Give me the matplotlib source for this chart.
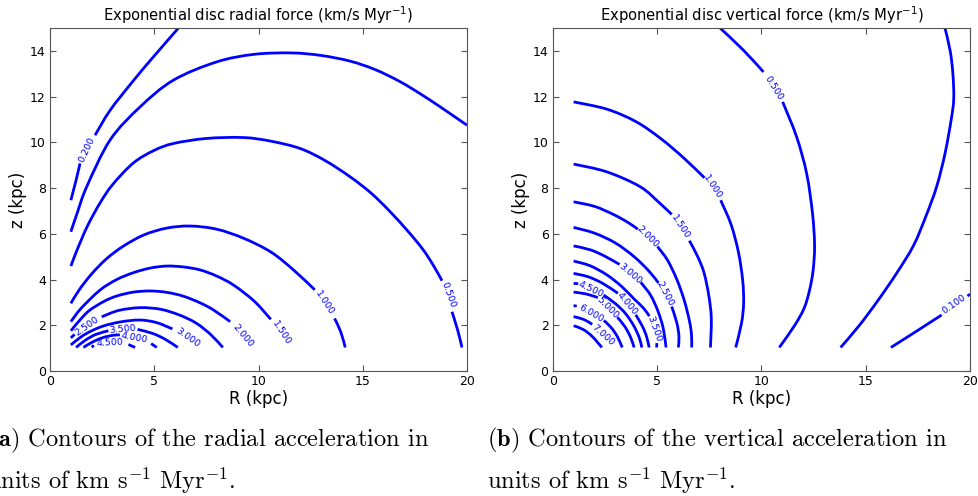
import matplotlib
matplotlib.use('Agg')
import matplotlib.pyplot as plt
from matplotlib.path import Path
from matplotlib.patches import PathPatch

# Contours, (R, z) in kpc.
# Each level is a list of pieces; pieces break where the inline label sits.

radial_levels = ['0.200', '', '0.500', '1.000', '1.500', '2.000',
                 '2.500', '3.000', '3.500', '4.000', '4.500']
radial_lines = [
    [[(1.0, 7.47), (1.25, 8.35), (1.44, 9.08)],
     [(2.16, 10.31), (2.88, 11.4), (4.0, 12.7), (4.96, 13.74), (6.16, 15.0)]],
    [[(1.0, 6.09), (1.3, 6.9), (1.76, 8.06), (2.88, 10.1), (4.32, 11.55), (5.92, 12.72),
      (8.0, 13.52), (9.8, 13.85), (11.6, 13.91), (13.0, 13.8), (14.4, 13.55),
      (15.6, 13.18), (16.8, 12.65), (17.8, 12.1), (18.72, 11.55), (20.0, 10.75)]],
    [[(1.0, 4.59), (1.3, 5.3), (1.8, 6.35), (2.4, 7.35), (3.0, 8.15), (4.0, 9.1),
      (5.0, 9.65), (5.92, 9.95), (7.5, 10.17), (9.28, 10.21), (10.6, 10.05),
      (12.0, 9.73), (13.2, 9.2), (14.4, 8.49), (15.4, 7.78), (16.3, 6.98),
      (17.2, 6.08), (17.9, 5.3), (18.4, 4.6), (18.8, 3.95)],
     [(19.28, 2.59), (19.55, 1.8), (19.76, 1.03)]],
    [[(1.0, 2.96), (1.4, 3.55), (2.0, 4.25), (2.7, 4.9), (3.5, 5.45), (4.5, 5.95),
      (5.6, 6.25), (6.72, 6.34), (8.0, 6.2), (9.3, 5.8), (10.6, 5.2),
      (11.68, 4.42), (12.7, 3.55)],
     [(13.65, 2.3), (13.95, 1.7), (14.16, 1.03)]],
    [[(1.0, 2.16), (1.5, 2.75), (2.4, 3.54), (3.2, 4.0), (4.0, 4.3), (4.8, 4.5),
      (5.6, 4.59), (6.4, 4.55), (7.2, 4.42), (8.0, 4.15), (8.8, 3.76), (9.8, 3.05),
      (10.59, 2.26)]],
    [[(1.0, 1.76), (1.5, 2.3), (1.92, 2.67), (2.6, 3.05), (3.2, 3.28), (4.0, 3.45),
      (4.8, 3.5), (5.6, 3.44), (6.4, 3.27), (7.2, 2.98), (7.84, 2.67), (8.64, 2.16)]],
    [[(1.0, 1.45), (1.18, 1.6)],
     [(2.48, 2.37), (3.3, 2.65), (4.32, 2.77), (5.3, 2.7), (6.2, 2.45), (7.0, 2.1),
      (7.7, 1.6), (8.29, 1.03)]],
    [[(1.0, 1.14), (1.5, 1.5), (2.0, 1.76), (2.6, 1.98), (3.4, 2.15), (4.3, 2.23),
      (5.1, 2.12), (5.87, 1.84)]],
    [[(1.25, 1.03), (1.7, 1.35), (2.2, 1.6), (2.8, 1.76)],
     [(4.2, 1.82), (4.9, 1.65), (5.5, 1.4), (6.13, 1.03)]],
    [[(1.6, 1.03), (2.0, 1.25), (2.5, 1.45), (3.0, 1.56), (3.35, 1.58)],
     [(4.85, 1.2), (5.12, 1.03)]],
    [[(2.0, 1.04), (2.1, 1.12)],
     [(3.76, 1.16), (4.08, 1.03)]],
]
radial_label_xy = [(1.76, 9.66), None, (19.1, 3.32), (13.16, 2.96), (11.08, 1.65),
                   (9.24, 1.54), (1.76, 1.97), (6.62, 1.46), (3.48, 1.83),
                   (4.04, 1.43), (2.89, 1.22)]
radial_label_rot = [65, 0, -70, -57, -57, -50, 35, -35, 5, -10, 3]

vertical_levels = ['0.100', '', '0.500', '1.000', '1.500', '2.000', '2.500',
                   '3.000', '3.500', '4.000', '4.500', '5.000', '6.000', '7.000', '']
vertical_lines = [
    [[(16.21, 1.03), (17.4, 1.72), (18.64, 2.45)],
     [(19.88, 3.28), (20.0, 3.36)]],
    [[(13.8, 1.03), (14.7, 2.0), (15.6, 3.1), (16.5, 4.3), (17.3, 5.5), (17.9, 6.8),
      (18.4, 8.06), (18.8, 9.5), (19.1, 11.0), (19.22, 11.9), (19.18, 13.0),
      (19.05, 14.0), (18.8, 15.0)]],
    [[(8.02, 15.0), (9.14, 14.03), (10.1, 13.08)],
     [(11.02, 11.77), (11.69, 10.24), (12.17, 8.64), (12.45, 6.9), (12.55, 5.5),
      (12.48, 4.4), (12.3, 3.5), (12.05, 2.75), (11.6, 2.0), (10.86, 1.03)]],
    [[(1.0, 11.77), (2.6, 11.45), (4.0, 10.9), (5.2, 10.15), (6.3, 9.3), (7.27, 8.45)],
     [(8.05, 7.47), (8.55, 6.4), (8.9, 5.2), (9.1, 4.0), (9.15, 3.0), (9.05, 2.1),
      (8.77, 1.03)]],
    [[(1.0, 9.05), (2.59, 8.71), (4.19, 8.06), (5.14, 7.33), (5.7, 6.85)],
     [(6.55, 5.7), (6.95, 5.0), (7.25, 4.3), (7.48, 3.3), (7.6, 2.3), (7.56, 1.03)]],
    [[(1.0, 7.4), (2.0, 7.2), (2.9, 6.85), (3.6, 6.5), (4.08, 6.2)],
     [(5.02, 5.44), (5.5, 4.85), (5.95, 4.0), (6.3, 3.1), (6.55, 2.2), (6.65, 1.6),
      (6.66, 1.03)]],
    [[(1.0, 6.28), (2.0, 6.03), (3.0, 5.6), (3.9, 5.0), (4.6, 4.38), (5.07, 3.85)],
     [(5.7, 2.82), (5.95, 2.1), (6.05, 1.5), (6.02, 1.03)]],
    [[(1.0, 5.47), (1.8, 5.3), (2.5, 5.02), (3.2, 4.66)],
     [(4.22, 3.88), (4.7, 3.3), (5.05, 2.6), (5.3, 1.85), (5.43, 1.03)]],
    [[(1.0, 4.81), (1.8, 4.6), (2.6, 4.2), (3.3, 3.7), (3.9, 3.15), (4.35, 2.75),
      (4.63, 2.4)],
     [(4.99, 1.22), (4.98, 1.03)]],
    [[(1.0, 4.27), (1.7, 4.12), (2.4, 3.83), (3.12, 3.4)],
     [(3.98, 2.46), (4.3, 1.95), (4.5, 1.5), (4.62, 1.03)]],
    [[(1.0, 3.83), (1.22, 3.82)],
     [(2.44, 3.32), (3.0, 2.95), (3.5, 2.5), (3.9, 1.95), (4.15, 1.45), (4.27, 1.03)]],
    [[(1.0, 3.45), (1.6, 3.37), (2.16, 3.21)],
     [(3.1, 2.35), (3.45, 1.95), (3.72, 1.5), (3.9, 1.03)]],
    [[(1.0, 2.86), (1.15, 2.84)],
     [(2.45, 2.21), (2.8, 1.9), (3.1, 1.5), (3.33, 1.03)]],
    [[(1.0, 2.38), (1.5, 2.25), (1.89, 2.04)]],
    [[(1.0, 1.98), (1.45, 1.82), (1.85, 1.55), (2.15, 1.25), (2.35, 1.03)]],
]
vertical_label_xy = [(19.25, 2.92), None, (10.6, 12.39), (7.64, 8.03), (6.14, 6.3),
                     (4.55, 5.87), (5.38, 3.4), (3.71, 4.27), (4.86, 1.83),
                     (3.55, 2.93), (1.83, 3.58), (2.63, 2.78), (1.87, 2.52),
                     (2.39, 1.58), None]
vertical_label_rot = [35, 0, -58, -57, -57, -45, -62, -40, -70, -50, -25, -45, -30, -42, 0]

line_color = '#0000ff'


def smooth_path(piece):
    # Catmull-Rom through the read points, handed to matplotlib as cubic Beziers
    pts = list(piece)
    verts = [pts[0]]
    codes = [Path.MOVETO]
    n = len(pts)
    for i in range(n - 1):
        p0 = pts[i - 1] if i > 0 else pts[i]
        p1, p2 = pts[i], pts[i + 1]
        p3 = pts[i + 2] if i + 2 < n else pts[i + 1]
        c1 = (p1[0] + (p2[0] - p0[0]) / 6, p1[1] + (p2[1] - p0[1]) / 6)
        c2 = (p2[0] - (p3[0] - p1[0]) / 6, p2[1] - (p3[1] - p1[1]) / 6)
        verts += [c1, c2, p2]
        codes += [Path.CURVE4] * 3
    return Path(verts, codes)


def draw_panel(ax, lines, levels, label_xy, label_rot, title):
    for pieces in lines:
        for piece in pieces:
            ax.add_patch(PathPatch(smooth_path(piece), fill=False, ec=line_color,
                                   lw=2.0, capstyle='butt'))
    for text, xy, rot in zip(levels, label_xy, label_rot):
        if text and xy is not None:
            ax.text(xy[0], xy[1], text, rotation=rot, rotation_mode='anchor',
                    ha='center', va='center', fontsize=6.8, color=line_color)
    ax.set_xlim(0, 20)
    ax.set_ylim(0, 15)
    ax.set_xticks([0, 5, 10, 15, 20])
    ax.set_yticks([0, 2, 4, 6, 8, 10, 12, 14])
    ax.tick_params(direction='in', top=True, right=True, length=4,
                   labelsize=9, pad=3, color='#555555')
    for s in ax.spines.values():
        s.set_color('#555555')
    ax.set_xlabel('R (kpc)', fontsize=12, labelpad=1)
    ax.set_ylabel('z (kpc)', fontsize=12, labelpad=2)
    ax.set_title(title, fontsize=10.6, pad=5)


fig = plt.figure(figsize=(9.79, 4.96), dpi=100)
ax1 = fig.add_axes([0.0511, 0.252, 0.4259, 0.6915])
ax2 = fig.add_axes([0.5646, 0.252, 0.4262, 0.6915])

draw_panel(ax1, radial_lines, radial_levels, radial_label_xy, radial_label_rot,
           r'Exponential disc radial force (km/s $\mathrm{Myr}^{-1}$)')
draw_panel(ax2, vertical_lines, vertical_levels, vertical_label_xy, vertical_label_rot,
           r'Exponential disc vertical force (km/s $\mathrm{Myr}^{-1}$)')

cap = dict(fontsize=17.6, family='cmr10', math_fontfamily='cm', va='center', ha='left')
fig.text(-0.011, 0.111, r'$\mathbf{(a)}$ Contours of the radial acceleration in', **cap)
fig.text(-0.013, 0.030, r'units of km s$^{-1}$ Myr$^{-1}$.', **cap)
fig.text(0.497, 0.111, r'$\mathbf{(b)}$ Contours of the vertical acceleration in', **cap)
fig.text(0.497, 0.030, r'units of km s$^{-1}$ Myr$^{-1}$.', **cap)

fig.savefig('out.png', dpi=100)
